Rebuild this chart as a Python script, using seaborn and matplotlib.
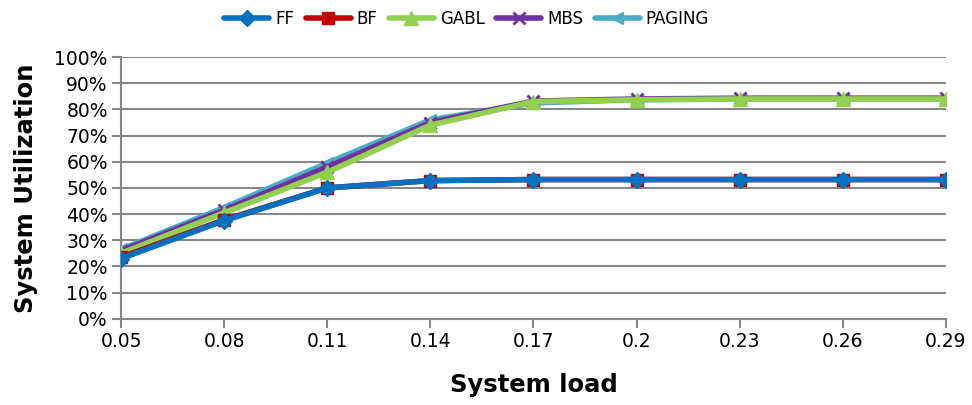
import matplotlib
matplotlib.use("Agg")
import matplotlib.pyplot as plt
import seaborn as sns
import pandas as pd

# System load levels and the tick text shown for them
loads = [0.05, 0.08, 0.11, 0.14, 0.17, 0.20, 0.23, 0.26, 0.29]
load_labels = ["0.05", "0.08", "0.11", "0.14", "0.17", "0.2", "0.23", "0.26", "0.29"]

# System utilization (%) per allocation strategy
ff = [23.0, 37.5, 50.0, 52.8, 53.2, 53.2, 53.2, 53.2, 53.2]
bf = [23.5, 37.8, 50.0, 52.8, 53.2, 53.2, 53.2, 53.2, 53.2]
gabl = [25.0, 40.5, 56.0, 74.0, 83.0, 83.7, 84.0, 84.0, 84.0]
mbs = [26.0, 41.5, 58.0, 75.0, 83.2, 84.0, 84.3, 84.3, 84.3]
paging = [26.5, 42.5, 59.5, 76.0, 82.5, 83.7, 84.0, 84.0, 84.0]

series = ["FF", "BF", "GABL", "MBS", "PAGING"]
values = {"FF": ff, "BF": bf, "GABL": gabl, "MBS": mbs, "PAGING": paging}
colors = {"FF": "#0070C0", "BF": "#C00000", "GABL": "#92D050",
          "MBS": "#7030A0", "PAGING": "#4BACC6"}
markers = {"FF": "D", "BF": "s", "GABL": "^", "MBS": "x", "PAGING": "<"}
msizes = {"FF": 8, "BF": 9, "GABL": 10, "MBS": 8, "PAGING": 8}

df = pd.DataFrame(
    [(s, x, y) for s in series for x, y in zip(loads, values[s])],
    columns=["strategy", "load", "util"],
)

sns.set_theme(style="white")
plt.rcParams["font.family"] = ["DejaVu Sans"]
plt.rcParams["text.color"] = "black"
plt.rcParams["axes.labelcolor"] = "black"

fig = plt.figure(figsize=(9.72, 4.05), dpi=100)
ax = fig.add_axes([0.1245, 0.213, 0.8487, 0.646])

# Later series are drawn first so FF ends up on top
for i, s in enumerate(reversed(series)):
    sub = df[df["strategy"] == s]
    mew = 2 if markers[s] == "x" else 1
    sns.lineplot(data=sub, x="load", y="util", ax=ax, color=colors[s],
                 linewidth=4, marker=markers[s], markersize=msizes[s],
                 markeredgecolor=colors[s], markeredgewidth=mew,
                 label=s, zorder=3 + i)

ax.set_xlim(loads[0], loads[-1])
ax.set_ylim(0, 100)
ax.set_xticks(loads)
ax.set_xticklabels(load_labels)
yt = list(range(0, 101, 10))
ax.set_yticks(yt)
ax.set_yticklabels([f"{v}%" for v in yt])

ax.grid(axis="y", color="#888888", linewidth=1.5)
ax.set_axisbelow(True)
for side in ["top", "right"]:
    ax.spines[side].set_visible(False)
for side in ["left", "bottom"]:
    ax.spines[side].set_color("#888888")
    ax.spines[side].set_linewidth(1.5)
ax.tick_params(axis="both", which="major", direction="out", length=6.5,
               width=1.5, color="#888888", labelsize=13.5, labelcolor="black",
               bottom=True, left=True, pad=3)

ax.set_xlabel("System load", fontsize=17.5, fontweight="bold", labelpad=16,
              color="black")
ax.set_ylabel("System Utilization", fontsize=17.5, fontweight="bold",
              labelpad=12, color="black")

handles, labels = ax.get_legend_handles_labels()
ax.get_legend().remove()
order = [labels.index(s) for s in series]
fig.legend([handles[i] for i in order], [labels[i] for i in order],
           loc="center", bbox_to_anchor=(0.48, 0.953), ncol=5,
           frameon=False, fontsize=12, handlelength=2.7,
           columnspacing=0.7, handletextpad=0.35, labelcolor="black")

fig.savefig("out.png", dpi=100)
